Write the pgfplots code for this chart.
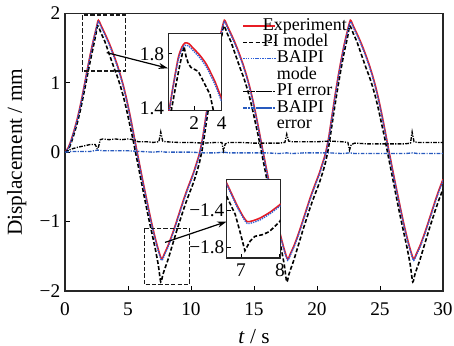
\documentclass[border=0pt]{standalone}
\usepackage{fontspec}
\setmainfont{Liberation Serif}
\usepackage{pgfplots}
\usepackage{pgfplotstable}
\pgfplotsset{compat=1.18}
\usetikzlibrary{arrows.meta}
\definecolor{expred}{RGB}{232,28,36}
\definecolor{baiblue}{RGB}{45,95,215}
\definecolor{errblue}{RGB}{40,90,190}

\pgfplotstableread{
t exp bai
0.00 0.00 0.00
0.25 0.06 0.05
0.50 0.18 0.17
0.75 0.33 0.32
1.00 0.50 0.49
1.25 0.70 0.69
1.50 0.93 0.92
1.75 1.17 1.16
2.00 1.40 1.39
2.25 1.61 1.60
2.50 1.80 1.79
2.65 1.90 1.88
2.90 1.81 1.79
3.15 1.715 1.695
3.40 1.615 1.595
3.65 1.505 1.485
3.90 1.385 1.365
4.15 1.255 1.235
4.40 1.11 1.09
4.65 0.945 0.925
4.90 0.755 0.735
5.15 0.54 0.52
5.40 0.31 0.29
5.65 0.07 0.05
5.90 -0.16 -0.18
6.15 -0.39 -0.41
6.40 -0.61 -0.63
6.65 -0.83 -0.85
6.90 -1.04 -1.06
7.15 -1.23 -1.25
7.40 -1.40 -1.42
7.67 -1.54 -1.56
7.92 -1.45 -1.47
8.17 -1.35 -1.37
8.42 -1.23 -1.25
8.67 -1.10 -1.12
8.92 -0.96 -0.98
9.17 -0.82 -0.84
9.42 -0.68 -0.70
9.67 -0.55 -0.57
9.92 -0.43 -0.45
10.17 -0.31 -0.33
10.42 -0.17 -0.19
10.67 -0.02 -0.04
10.92 0.20 0.18
11.17 0.50 0.48
11.42 0.80 0.78
11.67 1.08 1.06
11.92 1.33 1.31
12.17 1.56 1.54
12.42 1.75 1.73
12.65 1.90 1.88
12.90 1.81 1.79
13.15 1.715 1.695
13.40 1.615 1.595
13.65 1.505 1.485
13.90 1.385 1.365
14.15 1.255 1.235
14.40 1.11 1.09
14.65 0.945 0.925
14.90 0.755 0.735
15.15 0.54 0.52
15.40 0.31 0.29
15.65 0.07 0.05
15.90 -0.16 -0.18
16.15 -0.39 -0.41
16.40 -0.61 -0.63
16.65 -0.83 -0.85
16.90 -1.04 -1.06
17.15 -1.23 -1.25
17.40 -1.40 -1.42
17.67 -1.54 -1.56
17.92 -1.45 -1.47
18.17 -1.35 -1.37
18.42 -1.23 -1.25
18.67 -1.10 -1.12
18.92 -0.96 -0.98
19.17 -0.82 -0.84
19.42 -0.68 -0.70
19.67 -0.55 -0.57
19.92 -0.43 -0.45
20.17 -0.31 -0.33
20.42 -0.17 -0.19
20.67 -0.02 -0.04
20.92 0.20 0.18
21.17 0.50 0.48
21.42 0.80 0.78
21.67 1.08 1.06
21.92 1.33 1.31
22.17 1.56 1.54
22.42 1.75 1.73
22.65 1.90 1.88
22.90 1.81 1.79
23.15 1.715 1.695
23.40 1.615 1.595
23.65 1.505 1.485
23.90 1.385 1.365
24.15 1.255 1.235
24.40 1.11 1.09
24.65 0.945 0.925
24.90 0.755 0.735
25.15 0.54 0.52
25.40 0.31 0.29
25.65 0.07 0.05
25.90 -0.16 -0.18
26.15 -0.39 -0.41
26.40 -0.61 -0.63
26.65 -0.83 -0.85
26.90 -1.04 -1.06
27.15 -1.23 -1.25
27.40 -1.40 -1.42
27.67 -1.54 -1.56
27.92 -1.45 -1.47
28.17 -1.35 -1.37
28.42 -1.23 -1.25
28.67 -1.10 -1.12
28.92 -0.96 -0.98
29.17 -0.82 -0.84
29.42 -0.68 -0.70
29.67 -0.55 -0.57
29.92 -0.43 -0.45
30.00 -0.39 -0.41
}\expdata

\pgfplotstableread{
t pi
0.00 0.00
0.25 0.03
0.50 0.14
0.75 0.28
1.00 0.44
1.25 0.63
1.50 0.85
1.75 1.08
2.00 1.31
2.25 1.52
2.45 1.70
2.60 1.82
2.90 1.70
3.15 1.60
3.40 1.47
3.65 1.34
3.90 1.21
4.15 1.09
4.40 0.95
4.65 0.79
4.90 0.60
5.15 0.39
5.40 0.18
5.65 -0.05
5.90 -0.28
6.15 -0.51
6.40 -0.74
6.65 -0.96
6.90 -1.17
7.15 -1.38
7.40 -1.62
7.60 -1.87
7.77 -1.76
7.92 -1.68
8.17 -1.55
8.42 -1.40
8.67 -1.25
8.92 -1.10
9.17 -0.96
9.42 -0.82
9.67 -0.69
9.92 -0.57
10.17 -0.45
10.42 -0.31
10.67 -0.15
10.92 0.07
11.17 0.37
11.42 0.67
11.67 0.95
11.92 1.21
12.17 1.45
12.42 1.65
12.60 1.82
12.90 1.70
13.15 1.60
13.40 1.47
13.65 1.34
13.90 1.21
14.15 1.09
14.40 0.95
14.65 0.79
14.90 0.60
15.15 0.39
15.40 0.18
15.65 -0.05
15.90 -0.28
16.15 -0.51
16.40 -0.74
16.65 -0.96
16.90 -1.17
17.15 -1.38
17.40 -1.62
17.60 -1.87
17.77 -1.76
17.92 -1.68
18.17 -1.55
18.42 -1.40
18.67 -1.25
18.92 -1.10
19.17 -0.96
19.42 -0.82
19.67 -0.69
19.92 -0.57
20.17 -0.45
20.42 -0.31
20.67 -0.15
20.92 0.07
21.17 0.37
21.42 0.67
21.67 0.95
21.92 1.21
22.17 1.45
22.42 1.65
22.60 1.82
22.90 1.70
23.15 1.60
23.40 1.47
23.65 1.34
23.90 1.21
24.15 1.09
24.40 0.95
24.65 0.79
24.90 0.60
25.15 0.39
25.40 0.18
25.65 -0.05
25.90 -0.28
26.15 -0.51
26.40 -0.74
26.65 -0.96
26.90 -1.17
27.15 -1.38
27.40 -1.62
27.60 -1.87
27.77 -1.76
27.92 -1.68
28.17 -1.55
28.42 -1.40
28.67 -1.25
28.92 -1.10
29.17 -0.96
29.42 -0.82
29.67 -0.69
29.92 -0.57
30.00 -0.53
}\pidata

\pgfplotstableread{
t e
0.00 0.00
0.30 0.03
0.60 0.05
1.00 0.07
1.50 0.09
2.00 0.11
2.40 0.11
2.55 0.05
2.62 0.05
2.80 0.18
3.00 0.19
3.50 0.18
4.00 0.19
4.50 0.18
5.00 0.19
5.50 0.18
5.80 0.15
6.50 0.15
7.00 0.14
7.45 0.15
7.60 0.29
7.75 0.16
8.00 0.15
9.00 0.14
10.00 0.14
11.00 0.13
12.00 0.14
12.45 0.14
12.58 0.02
12.72 0.12
13.00 0.14
14.00 0.14
15.00 0.13
16.00 0.13
17.00 0.13
17.45 0.14
17.60 0.26
17.75 0.16
18.00 0.15
19.00 0.15
20.00 0.15
21.00 0.16
22.00 0.15
22.45 0.14
22.58 0.03
22.72 0.11
23.00 0.13
24.00 0.12
25.00 0.12
26.00 0.12
27.00 0.12
27.42 0.13
27.55 0.29
27.70 0.15
28.00 0.14
29.00 0.14
30.00 0.14
}\pierr

\pgfplotstableread{
t e
0.00 0.00
0.50 0.01
1.00 0.01
2.00 0.01
2.60 0.03
3.00 0.02
4.00 0.02
5.00 0.02
6.00 0.01
7.00 0.00
7.60 0.01
8.00 0.00
9.00 0.00
10.00 0.00
11.00 -0.01
12.00 -0.01
12.60 0.00
13.00 -0.01
14.00 -0.01
15.00 -0.01
16.00 -0.01
17.00 -0.02
17.60 -0.01
18.00 -0.02
19.00 -0.01
20.00 -0.01
21.00 -0.01
22.00 -0.02
22.60 -0.01
23.00 -0.02
24.00 -0.02
25.00 -0.02
26.00 -0.02
27.00 -0.02
27.60 -0.01
28.00 -0.02
29.00 -0.02
30.00 -0.02
}\baierr

\pgfplotstableread{
x exp bai
0.10 1.33 1.33
0.17 1.385 1.38
0.47 1.57 1.565
0.83 1.77 1.755
1.10 1.85 1.835
1.32 1.88 1.862
1.60 1.875 1.857
1.93 1.84 1.822
2.40 1.79 1.772
2.90 1.72 1.70
3.51 1.595 1.575
3.95 1.48 1.46
4.00 1.465 1.445
}\insetAexp

\pgfplotstableread{
x pi
0.28 1.33
0.33 1.385
0.66 1.57
0.95 1.72
1.25 1.855
1.40 1.78
1.56 1.73
1.75 1.70
1.93 1.69
2.29 1.67
2.70 1.59
3.15 1.50
3.39 1.385
3.46 1.33
}\insetApi

\pgfplotstableread{
x exp bai
6.63 -1.10 -1.115
6.65 -1.116 -1.13
6.89 -1.334 -1.35
7.05 -1.46 -1.475
7.16 -1.52 -1.54
7.30 -1.51 -1.53
7.49 -1.48 -1.50
7.74 -1.418 -1.435
8.00 -1.334 -1.35
8.02 -1.325 -1.342
}\insetBexp

\pgfplotstableread{
x pi
6.63 -1.24
6.65 -1.26
6.85 -1.44
6.97 -1.625
7.10 -1.837
7.23 -1.735
7.36 -1.68
7.57 -1.66
7.74 -1.625
8.00 -1.516
8.02 -1.50
}\insetBpi

\pgfplotsset{
  expstyle/.style={expred, line width=1.2pt},
  pistyle/.style={black, line width=1.2pt, dash pattern=on 3pt off 1.6pt},
  baistyle/.style={baiblue, line width=1pt, dash pattern=on 1pt off 0.8pt},
  pierrstyle/.style={black, line width=1pt, dash pattern=on 2.8pt off 1pt on 0.9pt off 1pt},
  baierrstyle/.style={errblue, line width=1pt, dash pattern=on 2.8pt off 1pt on 0.9pt off 1pt},
  legA/.style={legend image code/.code={\path (0pt,0pt) -- (24pt,0pt);\draw[##1] (0pt,0pt) -- (11pt,0pt);}},
  legB/.style={legend image code/.code={\path (0pt,0pt) -- (24pt,0pt);\draw[##1] (10.5pt,0pt) -- (23.5pt,0pt);}},
}

\begin{document}
\begin{tikzpicture}[font=\fontsize{14.5}{16}\selectfont]
\useasboundingbox (0,0) rectangle (340.5pt,259.5pt);
\begin{axis}[
  at={(48.75pt,41.25pt)}, anchor=south west, scale only axis,
  width=283.5pt, height=208.25pt,
  xmin=0, xmax=30, ymin=-2, ymax=2,
  xtick={0,5,10,15,20,25,30}, xticklabels={0,5,10,15,20,25,30},
  ytick={-2,-1,0,1,2}, yticklabels={−2,−1,0,1,2},
  tick align=inside, xtick pos=bottom, ytick pos=left,
  major tick length=4pt,
  tick style={black, line width=0.7pt},
  axis line style={line width=0.9pt, black!85},
  xticklabel style={anchor=base, yshift=-18.75pt},
  xlabel={\textit{t} / s}, ylabel={Displacement / mm},
  label style={font=\fontsize{16}{18}\selectfont},
  xlabel style={at={(axis description cs:0.5,-0.1873)}, anchor=base},
  ylabel style={at={(axis description cs:-0.1279,0.5)}, anchor=center},
  legend style={at={(axis description cs:0.469,0.985)}, anchor=north west,
    draw=none, fill=none, inner sep=0pt, row sep=0pt, column sep=0pt,
    font=\fontsize{13.5}{12}\selectfont,
    nodes={inner sep=0.5pt, text height=8.8pt, text depth=2.5pt}},
  legend cell align=left,
]
\addplot[expstyle, smooth, tension=0.4, forget plot] table[x=t, y=exp] {\expdata};
\addplot[pistyle, smooth, tension=0.4, forget plot] table[x=t, y=pi] {\pidata};
\addplot[baistyle, smooth, tension=0.4, forget plot] table[x=t, y=bai] {\expdata};
\addplot[pierrstyle, forget plot] table[x=t, y=e] {\pierr};
\addplot[baierrstyle, forget plot] table[x=t, y=e] {\baierr};

\addlegendimage{expstyle, legA}\addlegendentry{\hspace{-10.5pt}Experiment}
\addlegendimage{pistyle, legA}\addlegendentry{\hspace{-10.5pt}PI model}
\addlegendimage{baistyle, legB}\addlegendentry{BAIPI}
\addlegendimage{empty legend}\addlegendentry{mode}
\addlegendimage{pierrstyle, legB}\addlegendentry{PI error}
\addlegendimage{baierrstyle, legB}\addlegendentry{BAIPI}
\addlegendimage{empty legend}\addlegendentry{error}

\draw[black!90, line width=1.1pt, dash pattern=on 3.2pt off 1.6pt] (axis cs:1.37,1.17) rectangle (axis cs:4.81,1.975);
\draw[black!90, line width=1.1pt, dash pattern=on 3.2pt off 1.6pt] (axis cs:6.29,-1.10) rectangle (axis cs:9.87,-1.91);
\draw[black, line width=0.9pt, -{Stealth[length=7pt,width=4.5pt]}] (axis cs:3.31,1.434) -- (axis cs:8.17,1.209);
\draw[black, line width=0.9pt, -{Stealth[length=7pt,width=4.5pt]}] (axis cs:7.94,-1.30) -- (axis cs:12.83,-1.00);
\end{axis}

\begin{axis}[
  at={(126.2pt,176.8pt)}, anchor=south west, scale only axis,
  width=40pt, height=57.4pt,
  xmin=0.1, xmax=4.0, ymin=1.383, ymax=1.948,
  xtick={2,4}, xticklabels={2,4}, ytick={1.4,1.8}, yticklabels={1.4,1.8},
  tick align=inside, xtick pos=bottom, ytick pos=left,
  major tick length=3pt, tick style={black, line width=0.7pt},
  axis line style={line width=0.9pt, black!85},
  axis background/.style={fill=white},
  xticklabel style={anchor=base, yshift=-14.25pt},
  yticklabel style={inner sep=3pt},
]
\addplot[expstyle, smooth, tension=0.4] table[x=x, y=exp] {\insetAexp};
\addplot[pistyle] table[x=x, y=pi] {\insetApi};
\addplot[baistyle, smooth, tension=0.4] table[x=x, y=bai] {\insetAexp};
\end{axis}

\begin{axis}[
  at={(170.0pt,66.0pt)}, anchor=south west, scale only axis,
  width=40.5pt, height=58.7pt,
  xmin=6.63, xmax=8.02, ymin=-1.917, ymax=-1.061,
  xtick={7,8}, xticklabels={7,8}, ytick={-1.8,-1.4}, yticklabels={−1.8,−1.4},
  tick align=inside, xtick pos=bottom, ytick pos=left,
  major tick length=3pt, tick style={black, line width=0.7pt},
  axis line style={line width=0.9pt, black!85},
  axis background/.style={fill=white},
  xticklabel style={anchor=base, yshift=-14pt},
  yticklabel style={inner sep=1.5pt},
]
\addplot[expstyle, smooth, tension=0.4] table[x=x, y=exp] {\insetBexp};
\addplot[pistyle] table[x=x, y=pi] {\insetBpi};
\addplot[baistyle, smooth, tension=0.4] table[x=x, y=bai] {\insetBexp};
\end{axis}
\end{tikzpicture}
\end{document}
